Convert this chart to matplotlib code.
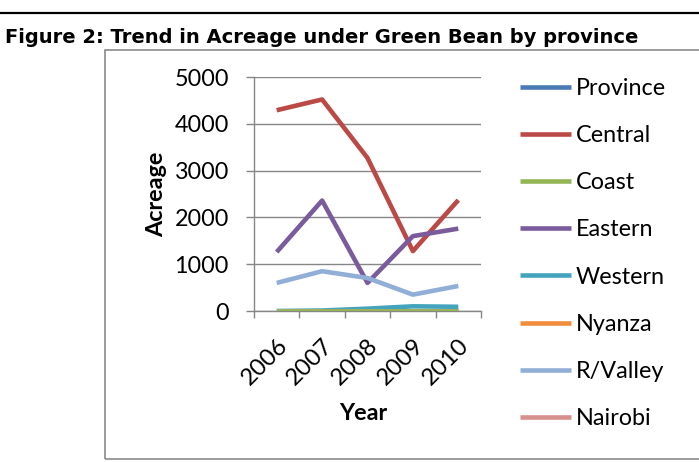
import matplotlib
matplotlib.use("Agg")
import matplotlib.pyplot as plt
from matplotlib.lines import Line2D
from matplotlib.patches import Rectangle
import numpy as np

years = ["2006", "2007", "2008", "2009", "2010"]
provinces = ["Province", "Central", "Coast", "Eastern", "Western", "Nyanza", "R/Valley", "Nairobi"]
province_vals = [np.nan, np.nan, np.nan, np.nan, np.nan]
central = [4290, 4520, 3270, 1280, 2370]
coast = [0, 0, 0, 0, 0]
eastern = [1260, 2360, 600, 1600, 1760]
western = [0, 10, 50, 100, 90]
nyanza = [0, 0, 0, 0, 0]
rvalley = [600, 850, 705, 350, 535]
nairobi = [0, 0, 0, 0, 0]

series = [province_vals, central, coast, eastern, western, nyanza, rvalley, nairobi]
colors = ["#4A7AB5", "#BB4945", "#93B554", "#7A5C9C", "#44A4BE", "#F08E3E", "#91AED6", "#D6908E"]
zorders = [3, 3, 6, 3, 4, 4, 3, 4]

W, H = 699, 462
fig = plt.figure(figsize=(W / 100, H / 100), dpi=100)

# Rule above the caption and frame around the chart
fig.add_artist(Line2D([0, 1], [1 - 13 / H, 1 - 13 / H], color="black", lw=1.6,
                      transform=fig.transFigure))
fig.add_artist(Rectangle((105 / W, 1 - 459 / H), 1.0, (459 - 50) / H,
                         transform=fig.transFigure, fill=False,
                         edgecolor="#8a8a8a", lw=1.2, clip_on=True))

fig.text(5 / W, 1 - 43 / H, "Figure 2: Trend in Acreage under Green Bean by province",
         fontfamily="DejaVu Sans", fontweight="bold", fontsize=14.0,
         ha="left", va="baseline")

ax = fig.add_axes([254 / W, 1 - 311 / H, (481 - 254) / W, (311 - 77) / H])
x = np.arange(len(years))
lines = []
for name, vals, c, z in zip(provinces, series, colors, zorders):
    ln, = ax.plot(x, vals, color=c, lw=3.3, solid_capstyle="butt",
                  solid_joinstyle="round", zorder=z, label=name)
    lines.append(ln)

ax.set_xlim(-0.5, len(years) - 0.5)
ax.set_ylim(0, 5000)
ax.set_yticks([0, 1000, 2000, 3000, 4000, 5000])
ax.grid(axis="y", color="#868686", lw=1.0)
ax.set_axisbelow(True)
for s in ["top", "right"]:
    ax.spines[s].set_visible(False)
for s in ["left", "bottom"]:
    ax.spines[s].set_color("#868686")
    ax.spines[s].set_linewidth(1.0)

ax.set_xticks(np.arange(-0.5, len(years)), minor=False)
ax.set_xticklabels([])
ax.set_xticks(x, minor=True)
ax.set_xticklabels(years, minor=True, rotation=45, ha="right", va="top",
                   rotation_mode="anchor", fontfamily="Lato", fontsize=17.2)
ax.tick_params(axis="x", which="major", length=5, color="#868686", width=1.0)
ax.tick_params(axis="x", which="minor", length=0, pad=17)
ax.tick_params(axis="y", length=6, color="#868686", width=1.0, pad=12,
               labelsize=16.8)
for lab in ax.get_yticklabels():
    lab.set_fontfamily("Lato")
for lab in ax.get_xticklabels(minor=True):
    lab.set_x(lab.get_position()[0])

ax.set_ylabel("Acreage", fontfamily="Lato", fontweight="bold", fontsize=16.8,
              va="center")
ax.yaxis.set_label_coords((157 - 254) / 227, 0.5)
ax.set_xlabel("Year", fontfamily="Lato", fontweight="bold", fontsize=16.8, va="center")
ax.xaxis.set_label_coords((363 - 254) / 227, (311 - 413) / 234)

fig.legend(handles=lines, loc="upper left",
           bbox_to_anchor=(520 / W, 1 - 78 / H), bbox_transform=fig.transFigure,
           frameon=False, borderpad=0, borderaxespad=0,
           handlelength=2.2, handletextpad=0.2, labelspacing=1.12,
           prop={"family": "Lato", "size": 16.8})

fig.savefig("out.png", dpi=100)
